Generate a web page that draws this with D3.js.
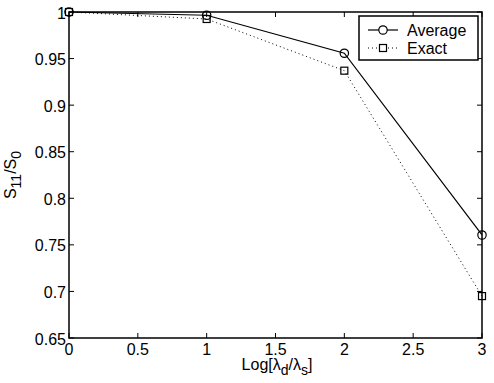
<!DOCTYPE html>
<html>
<head>
<meta charset="utf-8">
<script src="https://cdn.jsdelivr.net/npm/d3@7"></script>
<style>
  body { margin: 0; background: #fff; }
  text { font-family: "Liberation Sans", Arial, sans-serif; }
</style>
</head>
<body>
<script>
// data
const logRatio = [0, 1, 2, 3];
const average = [1.0, 0.9965, 0.9557, 0.7606];
const exact = [1.0, 0.9925, 0.937, 0.695];
const xTicks = [0, 0.5, 1, 1.5, 2, 2.5, 3];
const yTicks = [0.65, 0.7, 0.75, 0.8, 0.85, 0.9, 0.95, 1];

const w = 494, h = 383;
const padL = 69, padR = 482, padT = 12, padB = 338;
const fs = 16;

const x = d3.scaleLinear().domain([0, 3]).range([padL, padR]);
const y = d3.scaleLinear().domain([0.65, 1]).range([padB, padT]);

const svg = d3.select("body").append("svg")
    .attr("width", w)
    .attr("height", h);

// ticks on all four sides, pointing in
const tl = 5;
const ax = svg.append("g").attr("stroke", "#000").attr("stroke-width", 1);
xTicks.forEach(t => {
  ax.append("line").attr("x1", x(t)).attr("x2", x(t)).attr("y1", padB).attr("y2", padB - tl);
  ax.append("line").attr("x1", x(t)).attr("x2", x(t)).attr("y1", padT).attr("y2", padT + tl);
});
yTicks.forEach(t => {
  ax.append("line").attr("x1", padL).attr("x2", padL + tl).attr("y1", y(t)).attr("y2", y(t));
  ax.append("line").attr("x1", padR).attr("x2", padR - tl).attr("y1", y(t)).attr("y2", y(t));
});

svg.selectAll(".xl").data(xTicks).enter().append("text")
    .attr("x", d => x(d))
    .attr("y", padB + 17)
    .attr("text-anchor", "middle")
    .attr("font-size", fs)
    .text(d => d);

svg.selectAll(".yl").data(yTicks).enter().append("text")
    .attr("x", padL - 3)
    .attr("y", d => y(d) + 6.5)
    .attr("text-anchor", "end")
    .attr("font-size", fs)
    .text(d => d);

// lines
const line = d3.line().x((d, i) => x(logRatio[i])).y(d => y(d));

svg.append("path").datum(exact)
    .attr("d", line)
    .attr("fill", "none")
    .attr("stroke", "#000")
    .attr("stroke-width", 1)
    .attr("stroke-dasharray", "1,3");

svg.append("path").datum(average)
    .attr("d", line)
    .attr("fill", "none")
    .attr("stroke", "#000")
    .attr("stroke-width", 1.2);

svg.selectAll(".sq").data(exact).enter().append("rect")
    .attr("x", (d, i) => x(logRatio[i]) - 3.5)
    .attr("y", d => y(d) - 3.5)
    .attr("width", 7)
    .attr("height", 7)
    .attr("fill", "none")
    .attr("stroke", "#000")
    .attr("stroke-width", 1.2);

svg.selectAll(".ci").data(average).enter().append("circle")
    .attr("cx", (d, i) => x(logRatio[i]))
    .attr("cy", d => y(d))
    .attr("r", 4.2)
    .attr("fill", "none")
    .attr("stroke", "#000")
    .attr("stroke-width", 1.2);

// axes box
svg.append("rect")
    .attr("x", padL).attr("y", padT)
    .attr("width", padR - padL).attr("height", padB - padT)
    .attr("fill", "none")
    .attr("stroke", "#000")
    .attr("stroke-width", 1.5);

// legend
const lg = svg.append("g");
lg.append("rect")
    .attr("x", 359).attr("y", 16)
    .attr("width", 119).attr("height", 44)
    .attr("fill", "#fff")
    .attr("stroke", "#000")
    .attr("stroke-width", 1.5);
lg.append("line").attr("x1", 368).attr("x2", 398).attr("y1", 30).attr("y2", 30)
    .attr("stroke", "#000").attr("stroke-width", 1.2);
lg.append("circle").attr("cx", 383).attr("cy", 30).attr("r", 4.2)
    .attr("fill", "#fff").attr("stroke", "#000").attr("stroke-width", 1.2);
lg.append("line").attr("x1", 368).attr("x2", 398).attr("y1", 48).attr("y2", 48)
    .attr("stroke", "#000").attr("stroke-dasharray", "1,3");
lg.append("rect").attr("x", 379.5).attr("y", 44.5).attr("width", 7).attr("height", 7)
    .attr("fill", "#fff").attr("stroke", "#000").attr("stroke-width", 1.2);
lg.append("text").attr("x", 407).attr("y", 36).attr("font-size", fs).text("Average");
lg.append("text").attr("x", 407).attr("y", 54).attr("font-size", fs).text("Exact");

// axis titles
const xt = svg.append("text")
    .attr("x", 277)
    .attr("y", 370)
    .attr("text-anchor", "middle")
    .attr("font-size", fs);
xt.append("tspan").text("Log[λ");
xt.append("tspan").attr("dy", 5).attr("font-size", 14).text("d");
xt.append("tspan").attr("dy", -5).text("/λ");
xt.append("tspan").attr("dy", 5).attr("font-size", 14).text("s");
xt.append("tspan").attr("dy", -5).text("]");

const yt = svg.append("text")
    .attr("transform", "translate(16," + ((padT + padB) / 2) + ") rotate(-90)")
    .attr("text-anchor", "middle")
    .attr("font-size", fs);
yt.append("tspan").text("S");
yt.append("tspan").attr("dy", 5).attr("font-size", 14).text("11");
yt.append("tspan").attr("dy", -5).text("/S");
yt.append("tspan").attr("dy", 5).attr("font-size", 14).text("0");
</script>
</body>
</html>
